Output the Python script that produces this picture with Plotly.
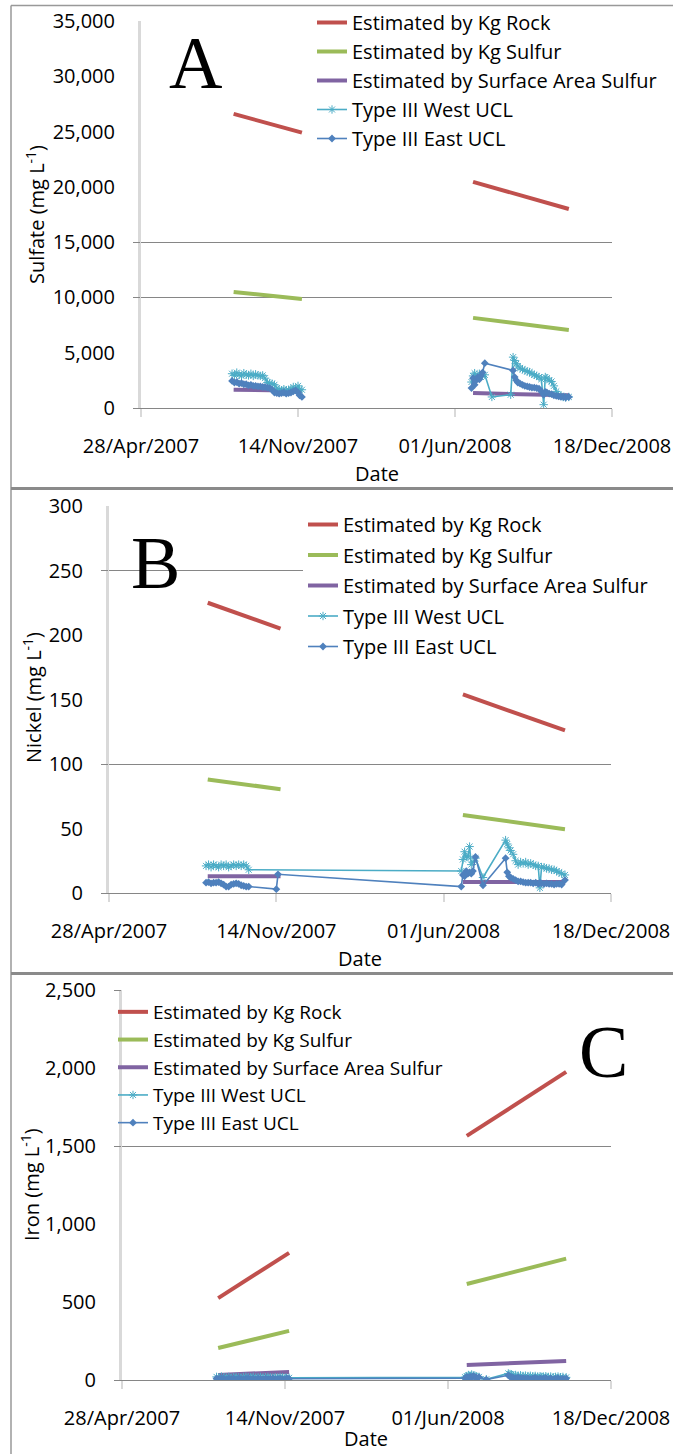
import plotly.graph_objects as go

# ---------------------------------------------------------------- data
X_START, X_END = "2007-04-28", "2008-12-18"
X_TICKS = ["2007-04-28", "2007-11-14", "2008-06-01", "2008-12-18"]

SERIES_NAMES = [
    "Estimated by Kg Rock",
    "Estimated by Kg Sulfur",
    "Estimated by Surface Area Sulfur",
    "Type III West UCL",
    "Type III East UCL",
]

# estimated concentrations (two model periods, gap between them)
EST_DATES = ["2007-08-24", "2007-11-19", None, "2008-06-24", "2008-10-24"]

SULFATE_ROCK = [26600, 24900, None, 20450, 18000]
SULFATE_SULFUR = [10500, 9850, None, 8150, 7050]
SULFATE_AREA = [1650, 1550, None, 1350, 1150]

NICKEL_ROCK = [225, 205, None, 154, 126]
NICKEL_SULFUR = [88, 80.5, None, 60.5, 49.5]
NICKEL_AREA = [13, 13, None, 8.5, 8.5]

IRON_ROCK = [525, 815, None, 1565, 1975]
IRON_SULFUR = [205, 315, None, 615, 778]
IRON_AREA = [32, 52, None, 96, 122]

# monitoring sample dates
OBS_DATES_2007 = [
    "2007-08-22", "2007-08-25", "2007-08-28", "2007-08-31", "2007-09-03",
    "2007-09-06", "2007-09-09", "2007-09-12", "2007-09-15", "2007-09-18",
    "2007-09-21", "2007-09-24", "2007-09-27", "2007-09-30", "2007-10-03",
    "2007-10-06", "2007-10-09", "2007-10-12", "2007-10-15", "2007-10-18",
    "2007-10-21", "2007-10-24", "2007-10-27", "2007-10-30", "2007-11-02",
    "2007-11-05", "2007-11-08", "2007-11-11", "2007-11-14", "2007-11-16",
    "2007-11-19",
]
OBS_DATES_2008 = [
    "2008-06-22", "2008-06-24", "2008-06-26", "2008-06-28", "2008-06-30",
    "2008-07-02", "2008-07-04", "2008-07-06", "2008-07-09", "2008-07-18",
    "2008-08-11", "2008-08-14", "2008-08-16", "2008-08-18", "2008-08-20",
    "2008-08-23", "2008-08-26", "2008-08-29", "2008-09-01", "2008-09-04",
    "2008-09-07", "2008-09-10", "2008-09-13", "2008-09-16", "2008-09-19",
    "2008-09-22", "2008-09-24", "2008-09-26", "2008-09-29", "2008-10-02",
    "2008-10-05", "2008-10-08", "2008-10-11", "2008-10-14", "2008-10-17",
    "2008-10-20", "2008-10-24",
]

# sulfate, mg/L
SULFATE_WEST_07 = [3100, 2950, 3200, 3000, 2900, 3150, 3000, 2950, 3100, 2900,
                   3050, 2950, 2900, 2950, 2700, 2300, 2250, 2200, 2100, 1800,
                   1650, 1600, 1700, 1600, 1650, 1700, 1900, 1750, 2000, 1700,
                   1650]
SULFATE_EAST_07 = [2450, 2300, 2350, 2200, 2250, 2150, 2150, 2050, 2100, 2000,
                   2000, 1950, 1950, 1900, 1900, 1850, 1800, 1650, 1400, 1350,
                   1300, 1350, 1400, 1300, 1350, 1400, 1500, 1600, 1400, 1150,
                   1000]
SULFATE_WEST_08 = [2350, 2900, 3150, 2700, 2800, 3100, 2800, 3000, 3000, 1000,
                   1200, 4600, 4300, 4000, 3800, 3600, 3500, 3400, 3300, 3250,
                   3100, 3000, 2900, 2800, 2600, 300, 2800, 2700, 2500, 2400,
                   2000, 1500, 1200, 1100, 1000, 950, 1000]
SULFATE_EAST_08 = [1800, 2700, 2100, 2500, 2800, 2600, 2900, 3200, 4050, None,
                   None, 3400, 2800, 2500, 2300, 2200, 2100, 2000, 1950, 1900,
                   1850, 1850, 1800, 1750, 1500, 1200, 1450, 1400, 1300, 1250,
                   1150, 1100, 1050, 1000, 1000, 950, 1000]

# nickel, mg/L
NICKEL_WEST_07 = [21, 22, 20, 22, 21, 20, 22, 21, 22, 20, 21, 22, 21, 22, 21,
                  22, 21, 18, None, None, None, None, None, None, None, None,
                  None, None, None, None, None]
NICKEL_EAST_07 = [8, 8.5, 7.5, 8, 8, 8.5, 7.5, 6.5, 5, 5, 6.5, 7, 7.5, 7, 6,
                  5.5, 5, 5, None, None, None, None, None, None, None, None,
                  None, None, 3, 14.5, None]
NICKEL_WEST_08 = [17, 26, 32, 28, 28, 36, 22, 24, 27, 12, None, 41, 38, 35, 33,
                  30, 25, 22, 24, 23, 24, 22, 23, 22, 21, 21, 4, 20, 20, 19,
                  19, 18, 18, 17, 16, 15, 14]
NICKEL_EAST_08 = [5, 14, 13, 17, 15, 16, 15, 17, 28, 6, None, 27, 16, 13, 12,
                  11, 10, 9, 9, 8.5, 8, 8, 8, 7.5, 8, 7, 8, 7.5, 7, 7.5, 7, 7,
                  6.5, 7, 7, 6.5, 10]

# iron, mg/L
IRON_WEST_07 = [20, 15, 22, 18, 16, 20, 14, 18, 20, 17, 15, 19, 21, 16, 18, 20,
                15, 17, 19, 16, 18, 20, 17, 15, 18, 16, 19, 17, 15, 14, 14]
IRON_EAST_07 = [10, 5, 12, 8, 3, 10, 6, 9, 4, 11, 7, 5, 9, 12, 6, 8, 4, 10, 7,
                5, 9, 6, 8, 11, 5, 7, 9, 6, 4, 12, 8]
IRON_WEST_08 = [18, 25, 32, 28, 35, 30, 26, 22, 20, 5, None, 42, 38, 35, 30,
                32, 28, 30, 26, 28, 25, 27, 24, 26, 22, 24, 20, 22, 24, 20, 22,
                18, 20, 22, 18, 20, 17]
IRON_EAST_08 = [12, 20, 15, 22, 18, 25, 20, 15, 18, 3, None, 30, 22, 18, 15,
                12, 16, 10, 14, 8, 12, 6, 10, 14, 7, 11, 5, 9, 13, 6, 10, 4, 9,
                12, 5, 8, 10]

# ---------------------------------------------------------------- styling
W, H = 673, 1454
FONT = "Open Sans"
RED, GREEN, PURPLE = "#c0504d", "#9bbb59", "#8064a2"
LIGHT_BLUE, BLUE = "#4bacc6", "#4f81bd"
GRID = "#868686"
AXIS_LIGHT = "#d9d9d9"


def fx(px):
    return px / W


def fy(py):
    return 1 - py / H


def obs_xy(v07, v08, join):
    """Sample dates/values for one monitoring series, skipping missing samples."""
    xs, ys = [], []
    for d, v in zip(OBS_DATES_2007, v07):
        if v is not None:
            xs.append(d)
            ys.append(v)
    if not join:
        xs.append(None)
        ys.append(None)
    for d, v in zip(OBS_DATES_2008, v08):
        if v is not None:
            xs.append(d)
            ys.append(v)
    return xs, ys


panels = [
    dict(key="", grid_key="4", legend="legend",
         est=(SULFATE_ROCK, SULFATE_SULFUR, SULFATE_AREA),
         obs=((SULFATE_WEST_07, SULFATE_WEST_08), (SULFATE_EAST_07, SULFATE_EAST_08)),
         join=False, yrange=[0, 35000], ydtick=5000, grid=[0, 10000, 15000],
         plot=(141, 612, 21, 408), ytitle="Sulfate (mg L<sup>-1</sup>)",
         ytitle_pos=(35, 215), letter="A", letter_pos=(195, 63),
         legend_pos=(312, 3), legend_gap=0, legend_font=20,
         legend_bg="rgba(255,255,255,0)", date_y=473),
    dict(key="2", grid_key="5", legend="legend2",
         est=(NICKEL_ROCK, NICKEL_SULFUR, NICKEL_AREA),
         obs=((NICKEL_WEST_07, NICKEL_WEST_08), (NICKEL_EAST_07, NICKEL_EAST_08)),
         join=True, yrange=[0, 300], ydtick=50, grid=[0, 100, 250],
         plot=(109, 611, 506, 893), ytitle="Nickel (mg L<sup>-1</sup>)",
         ytitle_pos=(33, 698), letter="B", letter_pos=(155, 563),
         legend_pos=(303, 505), legend_gap=1.5, legend_font=20,
         legend_bg="#ffffff", date_y=958),
    dict(key="3", grid_key="6", legend="legend3",
         est=(IRON_ROCK, IRON_SULFUR, IRON_AREA),
         obs=((IRON_WEST_07, IRON_WEST_08), (IRON_EAST_07, IRON_EAST_08)),
         join=True, yrange=[0, 2500], ydtick=500, grid=[0, 1500, 2500],
         plot=(122, 611, 990, 1380), ytitle="Iron (mg L<sup>-1</sup>)",
         ytitle_pos=(30, 1185), letter="C", letter_pos=(603, 1052),
         legend_pos=(113, 993), legend_gap=0, legend_font=19,
         legend_bg="rgba(255,255,255,0)", date_y=1438),
]

fig = go.Figure()
layout = dict(
    width=W, height=H, margin=dict(l=0, r=0, t=0, b=0, autoexpand=False),
    paper_bgcolor="white", plot_bgcolor="white", showlegend=True,
    font=dict(family=FONT, size=20, color="#000000"),
    annotations=[], shapes=[],
)

for p in panels:
    xa = "x" + p["key"]
    ya = "y" + p["key"]
    ga = "y" + p["grid_key"]
    x0, x1, ytop, ybot = p["plot"]

    est_colors = (RED, GREEN, PURPLE)
    for name, vals, col in zip(SERIES_NAMES[:3], p["est"], est_colors):
        fig.add_trace(go.Scatter(
            x=EST_DATES, y=vals, name=name, mode="lines",
            line=dict(color=col, width=4), connectgaps=False,
            xaxis=xa, yaxis=ya, legend=p["legend"], legendgroup=p["legend"] + name,
            hoverinfo="skip"))

    (w07, w08), (e07, e08) = p["obs"]
    wx, wy = obs_xy(w07, w08, p["join"])
    fig.add_trace(go.Scatter(
        x=wx, y=wy, name=SERIES_NAMES[3], mode="lines+markers",
        line=dict(color=LIGHT_BLUE, width=1.6), connectgaps=False,
        marker=dict(symbol="asterisk-open", size=7, color=LIGHT_BLUE,
                    line=dict(color=LIGHT_BLUE, width=1)),
        xaxis=xa, yaxis=ya, legend=p["legend"],
        legendgroup=p["legend"] + SERIES_NAMES[3], hoverinfo="skip"))
    ex, ey = obs_xy(e07, e08, p["join"])
    fig.add_trace(go.Scatter(
        x=ex, y=ey, name=SERIES_NAMES[4], mode="lines+markers",
        line=dict(color=BLUE, width=1.6), connectgaps=False,
        marker=dict(symbol="diamond", size=6, color=BLUE),
        xaxis=xa, yaxis=ya, legend=p["legend"],
        legendgroup=p["legend"] + SERIES_NAMES[4], hoverinfo="skip"))

    # carrier trace for the gridline axis
    fig.add_trace(go.Scatter(
        x=[X_START], y=[0], mode="markers", marker=dict(opacity=0),
        xaxis=xa, yaxis=ga, showlegend=False, hoverinfo="skip"))

    layout["xaxis" + p["key"]] = dict(
        domain=[fx(x0), fx(x1)], anchor=ya, type="date",
        range=[X_START, X_END], tickmode="array", tickvals=X_TICKS,
        tickformat="%d/%b/%Y", ticks="outside", ticklen=8, tickwidth=2,
        tickcolor=AXIS_LIGHT, showline=True, linecolor=GRID, linewidth=1,
        showgrid=False, zeroline=False, ticklabelstandoff=12, automargin=False,
        tickfont=dict(family=FONT, size=20, color="#000000"),
    )
    layout["yaxis" + p["key"]] = dict(
        domain=[fy(ybot), fy(ytop)], anchor=xa, range=p["yrange"],
        tickmode="linear", tick0=0, dtick=p["ydtick"], tickformat=",",
        ticks="", showline=True, linecolor=AXIS_LIGHT, linewidth=3,
        showgrid=False, zeroline=False, ticklabelstandoff=19, automargin=False,
        tickfont=dict(family=FONT, size=20, color="#000000"),
    )
    layout["yaxis" + p["grid_key"]] = dict(
        overlaying=ya, anchor=xa, side="left", range=p["yrange"],
        tickmode="array", tickvals=p["grid"], showticklabels=False,
        ticks="outside", ticklen=7, tickwidth=1, tickcolor=GRID,
        showgrid=True, gridcolor=GRID, gridwidth=1, showline=False,
        zeroline=False, automargin=False,
    )

    lx, ly = p["legend_pos"]
    layout[p["legend"]] = dict(
        x=fx(lx), y=fy(ly), xanchor="left", yanchor="top",
        bgcolor=p["legend_bg"], borderwidth=0, traceorder="grouped",
        tracegroupgap=p["legend_gap"],
        font=dict(family=FONT, size=p["legend_font"], color="#000000"),
    )

    tx, ty = p["ytitle_pos"]
    layout["annotations"].append(dict(
        text=p["ytitle"], x=fx(tx), y=fy(ty), xref="paper", yref="paper",
        textangle=-90, showarrow=False, xanchor="center", yanchor="middle",
        font=dict(family=FONT, size=20, color="#000000")))
    layout["annotations"].append(dict(
        text="Date", x=fx((x0 + x1) / 2), y=fy(p["date_y"]),
        xref="paper", yref="paper", showarrow=False, xanchor="center",
        yanchor="middle", font=dict(family=FONT, size=20, color="#000000")))
    lx2, ly2 = p["letter_pos"]
    layout["annotations"].append(dict(
        text=p["letter"], x=fx(lx2), y=fy(ly2), xref="paper", yref="paper",
        showarrow=False, xanchor="center", yanchor="middle",
        font=dict(family="Liberation Serif", size=74, color="#000000")))

# panel frames
frame = "#8a8a8a"
layout["shapes"] += [
    dict(type="line", xref="paper", yref="paper", x0=fx(11), x1=1,
         y0=fy(5.5), y1=fy(5.5), line=dict(color="#999999", width=1.5)),
    dict(type="line", xref="paper", yref="paper", x0=fx(11), x1=fx(11),
         y0=fy(5.5), y1=0, line=dict(color="#999999", width=1.5)),
    dict(type="line", xref="paper", yref="paper", x0=fx(11), x1=1,
         y0=fy(488.5), y1=fy(488.5), line=dict(color=frame, width=3)),
    dict(type="line", xref="paper", yref="paper", x0=fx(11), x1=1,
         y0=fy(973.5), y1=fy(973.5), line=dict(color=frame, width=3)),
]

fig.update_layout(**layout)
fig.write_html("out.html")
